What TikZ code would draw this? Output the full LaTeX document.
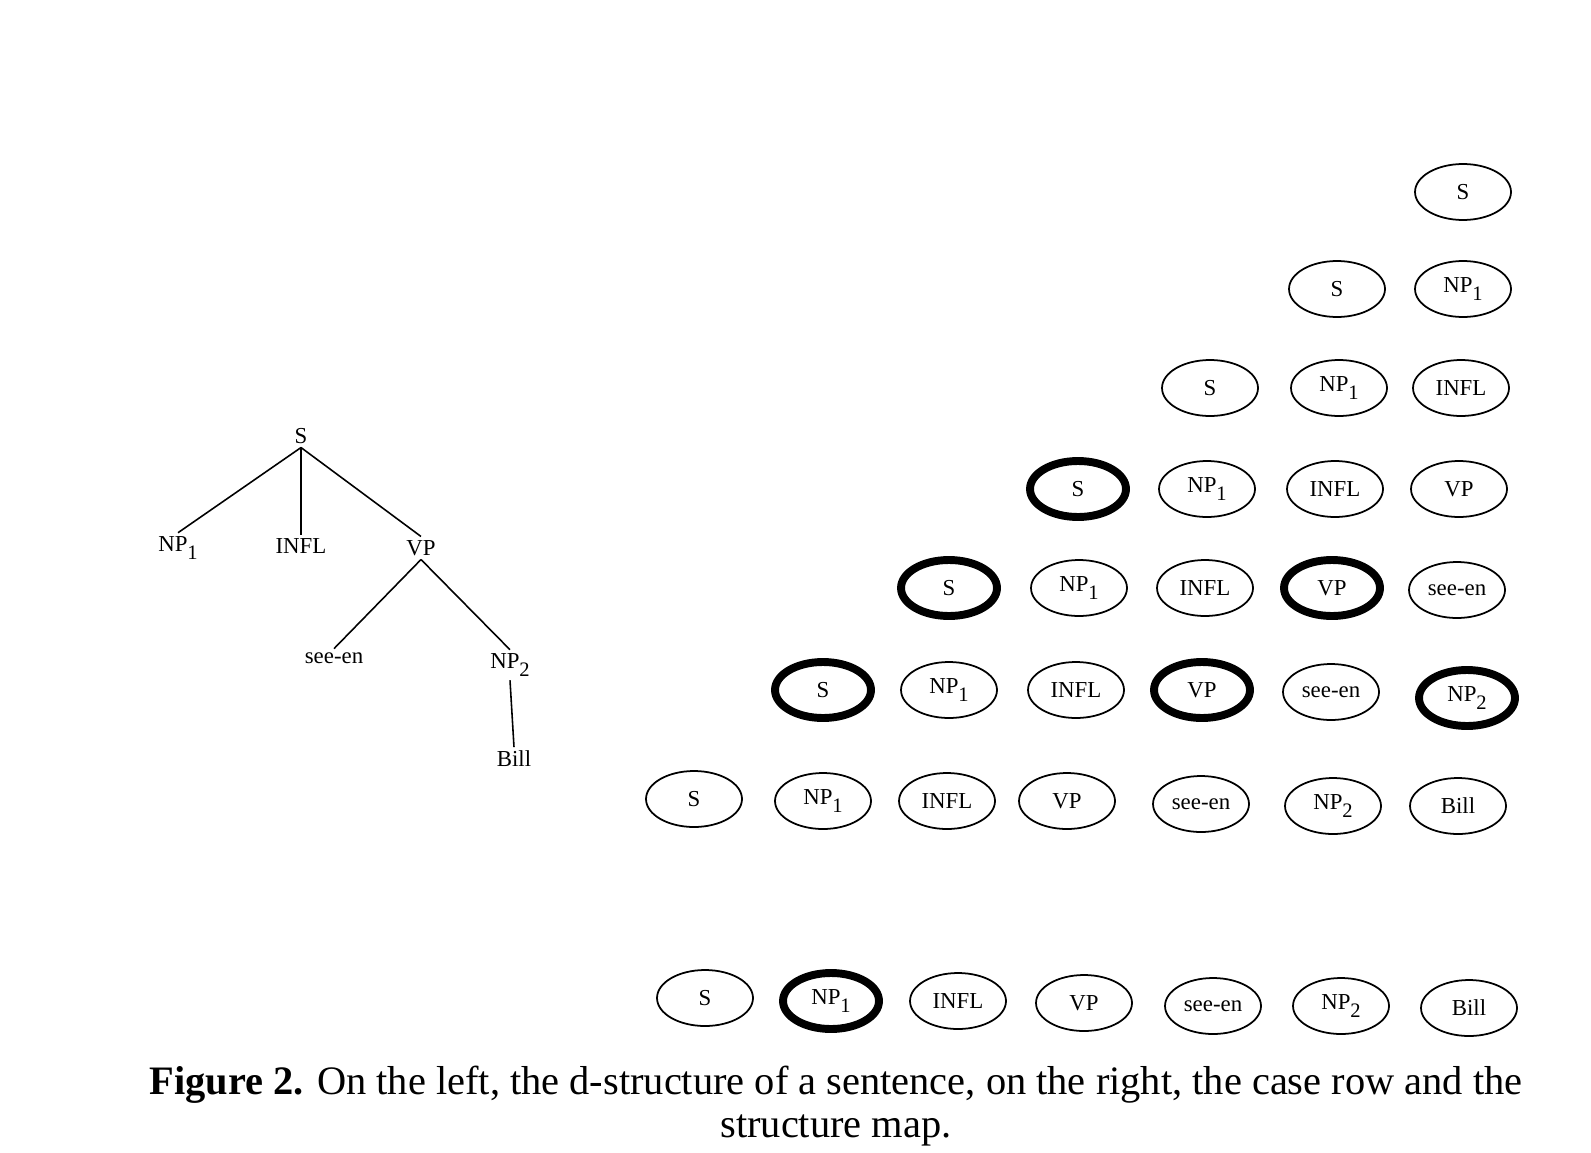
\documentclass[tikz,border=0pt]{standalone}
\usepackage{fontspec}
\setmainfont{Liberation Serif}
\usetikzlibrary{shapes.geometric}
\newcommand{\idx}[1]{\raisebox{-0.75ex}{\scalebox{0.9}{#1}}}

\begin{document}
\begin{tikzpicture}[
      x=0.02cm,y=-0.02cm,
      font=\fontsize{13}{15}\selectfont,
      cat/.style={inner sep=2pt},
      branch/.style={line width=0.9pt},
      cell/.style={ellipse,draw,line width=1pt,
        minimum width=1.92cm,minimum height=1.12cm,inner sep=0pt},
      marked/.style={cell,line width=4.5pt}
    ]
    \useasboundingbox (0,0) rectangle (1591,1152);

    % d-structure
    \node[cat] (ts) at (301,436) {S};
    \node[cat] (tnp1) at (178,548) {NP\idx{1}};
    \node[cat] (tinfl) at (301,546) {INFL};
    \node[cat] (tvp) at (421,548) {VP};
    \node[cat] (tsee) at (334,658) {see-en};
    \node[cat] (tnp2) at (510,665) {NP\idx{2}};
    \node[cat] (tbill) at (514,759) {Bill};

    \draw[branch] (ts.south) -- (tnp1.north);
    \draw[branch] (ts.south) -- (tinfl.north);
    \draw[branch] (ts.south) -- (tvp.north);
    \draw[branch] (tvp.south) -- (tsee.north);
    \draw[branch] (tvp.south) -- (tnp2.north);
    \draw[branch] (tnp2.south) -- (tbill.north);

    % structure map
    \node[cell] (r1c7) at (1463,192) {S};

    \node[cell] (r2c6) at (1337,289) {S};
    \node[cell] (r2c7) at (1463,289) {NP\idx{1}};

    \node[cell] (r3c5) at (1210,388) {S};
    \node[cell] (r3c6) at (1339,388) {NP\idx{1}};
    \node[cell] (r3c7) at (1461,388) {INFL};

    \node[marked] (r4c4) at (1078,489) {S};
    \node[cell] (r4c5) at (1207,489) {NP\idx{1}};
    \node[cell] (r4c6) at (1335,489) {INFL};
    \node[cell] (r4c7) at (1459,489) {VP};

    \node[marked] (r5c3) at (949,588) {S};
    \node[cell] (r5c4) at (1079,588) {NP\idx{1}};
    \node[cell] (r5c5) at (1205,588) {INFL};
    \node[marked] (r5c6) at (1332,588) {VP};
    \node[cell] (r5c7) at (1457,590) {see-en};

    \node[marked] (r6c2) at (823,690) {S};
    \node[cell] (r6c3) at (949,690) {NP\idx{1}};
    \node[cell] (r6c4) at (1076,690) {INFL};
    \node[marked] (r6c5) at (1202,690) {VP};
    \node[cell] (r6c6) at (1331,692) {see-en};
    \node[marked] (r6c7) at (1467,698) {NP\idx{2}};

    \node[cell] (r7c1) at (694,799) {S};
    \node[cell] (r7c2) at (823,801) {NP\idx{1}};
    \node[cell] (r7c3) at (947,801) {INFL};
    \node[cell] (r7c4) at (1067,801) {VP};
    \node[cell] (r7c5) at (1201,804) {see-en};
    \node[cell] (r7c6) at (1333,806) {NP\idx{2}};
    \node[cell] (r7c7) at (1458,806) {Bill};

    % case row
    \node[cell] (c1) at (705,998) {S};
    \node[marked] (c2) at (831,1001) {NP\idx{1}};
    \node[cell] (c3) at (958,1001) {INFL};
    \node[cell] (c4) at (1084,1003) {VP};
    \node[cell] (c5) at (1213,1006) {see-en};
    \node[cell] (c6) at (1341,1006) {NP\idx{2}};
    \node[cell] (c7) at (1469,1008) {Bill};

    \node[align=center,font=\fontsize{23}{24.5}\selectfont] (caption) at (836,1106)
      {\textbf{Figure 2.} On the left, the d-structure of a sentence, on the right, the case row and the\\
       structure map.};
  \end{tikzpicture}
\end{document}
